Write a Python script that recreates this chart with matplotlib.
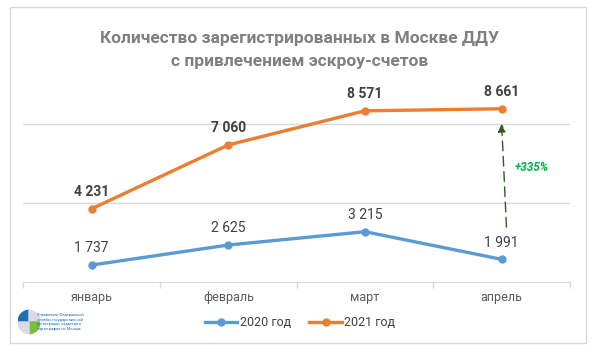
import matplotlib.pyplot as plt
from matplotlib.patches import Rectangle, Wedge

plt.rcParams['font.family'] = ['Roboto', 'DejaVu Sans']

# data
months = ['январь', 'февраль', 'март', 'апрель']
y2020 = [1737, 2625, 3215, 1991]
y2021 = [4231, 7060, 8571, 8661]
labels2020 = ['1 737', '2 625', '3 215', '1 991']
labels2021 = ['4 231', '7 060', '8 571', '8 661']
growth = '+335%'
title = 'Количество зарегистрированных в Москве ДДУ\nс привлечением эскроу-счетов'

W, H = 594, 353
fig = plt.figure(figsize=(W / 100, H / 100), dpi=100)

# outer chart frame
fig.patches.append(Rectangle((10 / W, 1 - 343 / H), 576 / W, 336 / H,
                             transform=fig.transFigure, fill=False,
                             edgecolor='#d9d9d9', lw=1))

ax = fig.add_axes([23.3 / W, 1 - 281.7 / H, 546.7 / W, 237 / H])
x = range(len(months))

ax.plot(x, y2020, color='#5b9bd5', lw=2.4, marker='o', ms=5, label='2020 год')
ax.plot(x, y2021, color='#ed7d31', lw=2.4, marker='o', ms=5, label='2021 год')

for i in x:
    ax.annotate(labels2020[i], (i, y2020[i]), xytext=(0, 7), textcoords='offset points',
                ha='center', va='bottom', fontsize=10, color='#404040')
    ax.annotate(labels2021[i], (i, y2021[i]), xytext=(0, 7), textcoords='offset points',
                ha='center', va='bottom', fontsize=10, color='#404040', fontweight='bold')

# growth arrow for April
ax.annotate('', xy=(3, 8000), xytext=(3.035, 3420),
            arrowprops=dict(arrowstyle='-|>', color='#375623', lw=1, ls=(0, (7, 4)),
                            mutation_scale=12, shrinkA=0, shrinkB=0))
ax.text(3.22, 6080, growth, color='#00b050', fontsize=8.5, fontweight='bold',
        fontstyle='italic', ha='center', va='center')

ax.set_xlim(-0.5, 3.5)
ax.set_ylim(1000, 11500)
ax.set_yticks([4500, 8000])
ax.yaxis.grid(True, color='#d9d9d9', lw=1)
ax.set_axisbelow(True)
ax.tick_params(axis='y', left=False, labelleft=False)
ax.set_xticks([-0.5, 0.5, 1.5, 2.5, 3.5])
ax.set_xticklabels([])
ax.set_xticks(list(x), minor=True)
ax.set_xticklabels(months, minor=True)
ax.tick_params(axis='x', which='major', length=4, color='#d9d9d9', width=1)
ax.tick_params(axis='x', which='minor', length=0, labelsize=9, labelcolor='#595959', pad=7)
for s in ['top', 'right', 'left']:
    ax.spines[s].set_visible(False)
ax.spines['bottom'].set_color('#d9d9d9')

fig.text(300 / W, 1 - 50 / H, title, ha='center', va='center', fontsize=12.5,
         fontweight='bold', color='#7f7f7f', linespacing=1.6)

fig.legend(loc='center', bbox_to_anchor=(300 / W, 1 - 323 / H), ncol=2, frameon=False,
           fontsize=9, labelcolor='#404040', handlelength=2.6, columnspacing=1.5,
           handletextpad=0.2)

# small logo bottom-left
ax_logo = fig.add_axes([18 / W, 1 - 336 / H, 22 / W, 28 / H])
ax_logo.set_xlim(-1, 1)
ax_logo.set_ylim(-1.2, 1.2)
ax_logo.axis('off')
ax_logo.add_patch(Wedge((0, 0), 1, 90, 180, color='#1f6fb5'))
ax_logo.add_patch(Wedge((0, 0), 1, 0, 90, color='#d9dde3'))
ax_logo.add_patch(Wedge((0, 0), 1, 270, 360, color='#7dbb42'))
ax_logo.add_patch(Wedge((0, 0), 1, 180, 270, color='#d9dde3'))
fig.text(37 / W, 1 - 322 / H,
         'Управление Федеральной\nслужбы государственной\nрегистрации, кадастра и\nкартографии по Москве',
         fontsize=2.8, color='#1f6fb5', va='center', ha='left', linespacing=1.3)

fig.savefig('out.png', dpi=100)
